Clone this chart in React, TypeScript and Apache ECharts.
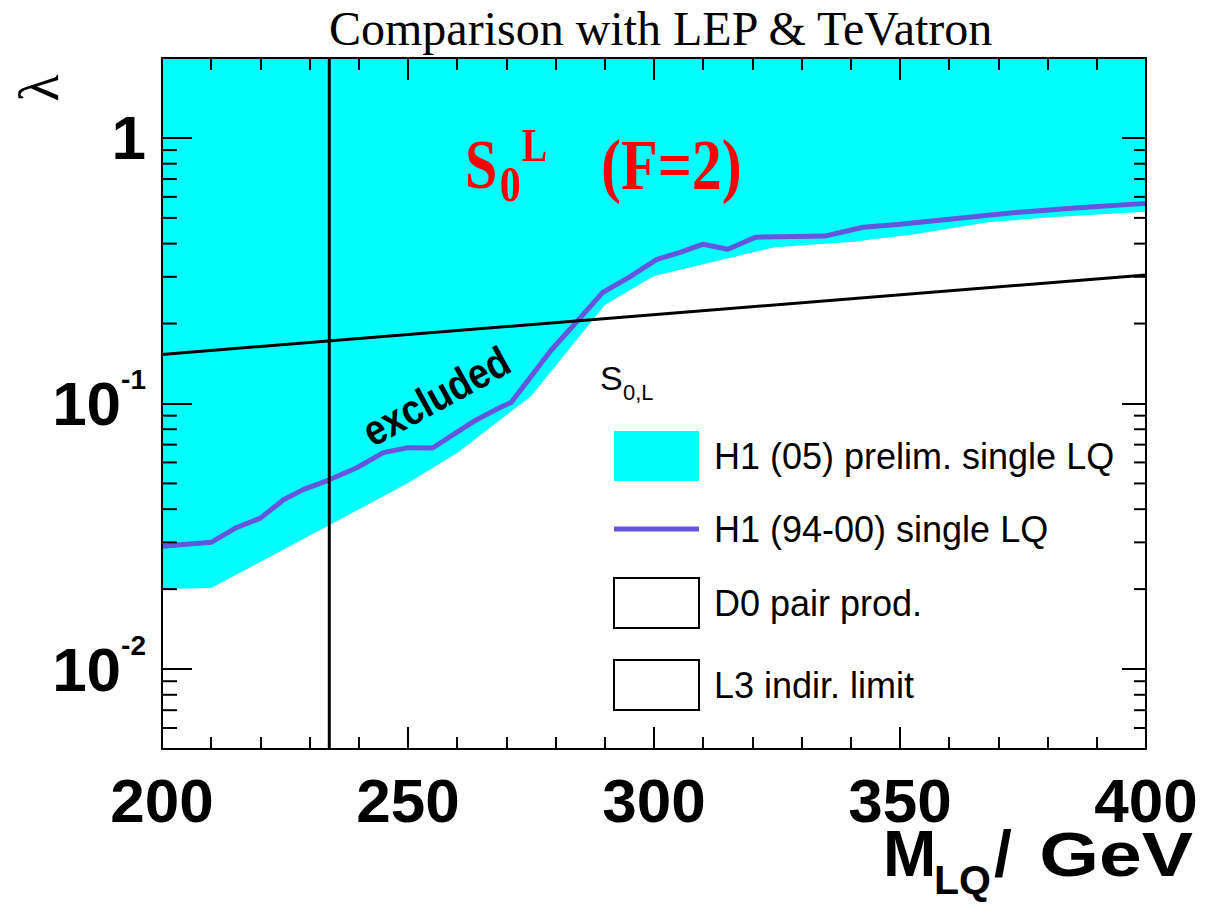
import React, { useEffect, useRef } from 'react';
import * as echarts from 'echarts';

// ---- data ----
const X_MIN = 200;
const X_MAX = 400;
const Y_MIN = 0.005;
const Y_MAX = 2;

// H1 (05) preliminary single LQ: lower edge of the excluded (cyan) region
const h1NewMass = [200, 210, 233.5, 250, 260, 275, 290, 300, 324.6, 340, 353, 368, 380, 400];
const h1NewLambda = [0.02, 0.0202, 0.0344, 0.0502, 0.0651, 0.1066, 0.235, 0.302, 0.388, 0.406, 0.434, 0.481, 0.502, 0.527];

// H1 (94-00) single LQ limit
const h1OldMass = [200, 210, 215, 220, 224.7, 228.7, 234, 239.6, 245, 250, 255, 260, 263.3, 268.7, 271, 279, 285, 289.6, 295, 300.6, 305.3, 310, 315, 320.7, 334.7, 342.5, 350, 360, 373.5, 387, 400];
const h1OldLambda = [0.029, 0.03, 0.034, 0.037, 0.0434, 0.0474, 0.0516, 0.0573, 0.0653, 0.0682, 0.068, 0.078, 0.0855, 0.0966, 0.101, 0.158, 0.21, 0.262, 0.299, 0.349, 0.371, 0.398, 0.381, 0.423, 0.427, 0.461, 0.473, 0.494, 0.524, 0.547, 0.567];

// L3 indirect limit
const l3Mass = [200, 400];
const l3Lambda = [0.153, 0.305];

// D0 pair production limit (vertical line)
const d0Mass = [234, 234];
const d0Lambda = [0.005, 2];

// minor ticks of the log axis
const yMinorTicks = [
  0.006, 0.007, 0.008, 0.009,
  0.02, 0.03, 0.04, 0.05, 0.06, 0.07, 0.08, 0.09,
  0.2, 0.3, 0.4, 0.5, 0.6, 0.7, 0.8, 0.9,
];

const seriesNames = ['H1 (05) prelim. single LQ', 'H1 (94-00) single LQ', 'D0 pair prod.', 'L3 indir. limit'];

const CYAN = '#00ffff';
const PURPLE = '#6655dd';
const SANS = "'Liberation Sans', Arial, Helvetica, sans-serif";
const SERIF = "'Liberation Serif', 'Times New Roman', serif";

const zip = (xs: number[], ys: number[]) => xs.map((x, i) => [x, ys[i]]);

export default function App() {
  const ref = useRef<HTMLDivElement>(null);

  useEffect(() => {
    if (!ref.current) return;
    const chart = echarts.init(ref.current, null, { renderer: 'svg' });

    const yLabelFormatter = (v: number) => {
      const l = Math.log10(v);
      const e = Math.round(l);
      if (Math.abs(l - e) > 1e-6) return '';
      if (e === 0) return '{b|1}';
      return `{b|10}{s|${e}}`;
    };

    const xAxisCommon = {
      type: 'value',
      min: X_MIN,
      max: X_MAX,
      interval: 50,
      z: 10,
      splitLine: { show: false },
      axisLine: { show: true, onZero: false, lineStyle: { color: '#000', width: 2 } },
      axisTick: { show: true, inside: true, length: 22, lineStyle: { color: '#000', width: 2 } },
      minorTick: { show: true, splitNumber: 5, length: 12, lineStyle: { color: '#000', width: 2 } },
    };
    const yAxisCommon = {
      type: 'log',
      logBase: 10,
      min: Y_MIN,
      max: Y_MAX,
      z: 10,
      splitLine: { show: false },
      axisLine: { show: true, onZero: false, lineStyle: { color: '#000', width: 2 } },
      axisTick: { show: true, inside: true, length: 30, lineStyle: { color: '#000', width: 2 } },
    };

    const option: any = {
      animation: false,
      backgroundColor: '#ffffff',
      title: {
        text: 'Comparison with LEP & TeVatron',
        left: 329,
        top: 4,
        padding: 0,
        textStyle: { fontFamily: SERIF, fontSize: 48, fontWeight: 'normal', color: '#000', lineHeight: 48 },
      },
      grid: { left: 162, right: 60, top: 58, bottom: 155, containLabel: false, outerBoundsMode: 'none' },
      xAxis: [
        {
          ...xAxisCommon,
          position: 'bottom',
          axisLabel: { show: true, margin: 27, color: '#000', fontFamily: SANS, fontSize: 62, fontWeight: 'bold', lineHeight: 48 },
        },
        { ...xAxisCommon, position: 'top', axisLabel: { show: false } },
      ],
      yAxis: [
        {
          ...yAxisCommon,
          position: 'left',
          axisLabel: {
            show: true,
            margin: 16,
            formatter: yLabelFormatter,
            rich: {
              b: { fontFamily: SANS, fontSize: 62, fontWeight: 'bold', color: '#000', lineHeight: 76 },
              s: { fontFamily: SANS, fontSize: 28, fontWeight: 'bold', color: '#000', lineHeight: 28, verticalAlign: 'top' },
            },
          },
        },
        { ...yAxisCommon, position: 'right', axisTick: { ...yAxisCommon.axisTick, length: 24 }, axisLabel: { show: false } },
      ],
      legend: {
        orient: 'vertical',
        left: 613,
        top: 431,
        itemWidth: 85,
        itemHeight: 50,
        itemGap: 30,
        selectedMode: false,
        padding: 0,
        textStyle: { fontFamily: SANS, fontSize: 36, color: '#000', padding: [0, 0, 0, 10] },
        data: [
          { name: seriesNames[0], icon: 'rect', itemStyle: { color: CYAN, borderWidth: 0 } },
          { name: seriesNames[1], icon: 'path://M0,0L100,0L100,6L0,6Z', itemStyle: { color: PURPLE, borderWidth: 0 } },
          { name: seriesNames[2], icon: 'rect', itemStyle: { color: '#ffffff', borderColor: '#000', borderWidth: 2 } },
          { name: seriesNames[3], icon: 'rect', itemStyle: { color: '#ffffff', borderColor: '#000', borderWidth: 2 } },
        ],
      },
      series: [
        {
          name: seriesNames[0],
          type: 'line',
          data: zip(h1NewMass, h1NewLambda),
          color: CYAN,
          symbol: 'none',
          lineStyle: { width: 0, color: CYAN },
          areaStyle: { color: CYAN, opacity: 1, origin: 'end' },
          z: 1,
          silent: true,
        },
        {
          name: seriesNames[1],
          type: 'line',
          data: zip(h1OldMass, h1OldLambda),
          color: PURPLE,
          symbol: 'none',
          lineStyle: { width: 5, color: PURPLE },
          z: 3,
          silent: true,
        },
        {
          name: seriesNames[2],
          type: 'line',
          data: zip(d0Mass, d0Lambda),
          color: '#000',
          symbol: 'none',
          lineStyle: { width: 3, color: '#000' },
          z: 4,
          silent: true,
        },
        {
          name: seriesNames[3],
          type: 'line',
          data: zip(l3Mass, l3Lambda),
          color: '#000',
          symbol: 'none',
          lineStyle: { width: 3, color: '#000' },
          z: 4,
          silent: true,
        },
        {
          name: 'minor ticks',
          type: 'custom',
          data: yMinorTicks.map((v) => [X_MIN, v]),
          z: 10,
          silent: true,
          renderItem: (_params: any, api: any) => {
            const v = api.value(1);
            const l = api.coord([X_MIN, v]);
            const r = api.coord([X_MAX, v]);
            return {
              type: 'group',
              children: [
                { type: 'line', shape: { x1: l[0], y1: l[1], x2: l[0] + 15, y2: l[1] }, style: { stroke: '#000', lineWidth: 2 } },
                { type: 'line', shape: { x1: r[0] - 12, y1: r[1], x2: r[0], y2: r[1] }, style: { stroke: '#000', lineWidth: 2 } },
              ],
            };
          },
        },
      ],
      graphic: [
        // y-axis title (rotated lambda)
        {
          type: 'text', x: 39, y: 88, rotation: Math.PI / 2, z: 20,
          style: { text: 'λ', font: `56px ${SERIF}`, fill: '#000', align: 'center', verticalAlign: 'middle' },
        },
        // x-axis title: M_LQ / GeV
        { type: 'text', x: 883, y: 854, z: 20, style: { text: 'M', font: `bold 64px ${SANS}`, lineHeight: 46, fill: '#000', align: 'left', verticalAlign: 'middle' } },
        { type: 'text', x: 934, y: 880, z: 20, style: { text: 'LQ', font: `bold 41px ${SANS}`, lineHeight: 30, fill: '#000', align: 'left', verticalAlign: 'middle' } },
        { type: 'text', x: 994, y: 854, z: 20, style: { text: '/', font: `bold 64px ${SANS}`, lineHeight: 46, fill: '#000', align: 'left', verticalAlign: 'middle' } },
        { type: 'text', x: 1193, y: 854, scaleX: 1.22, z: 20, style: { text: 'GeV', font: `bold 63px ${SANS}`, lineHeight: 46, fill: '#000', align: 'right', verticalAlign: 'middle' } },
        // red S0^L (F=2)
        { type: 'text', x: 465, y: 165, scaleY: 1.2, z: 20, style: { text: 'S', font: `bold 58px ${SERIF}`, fill: '#ff0000', align: 'left', verticalAlign: 'middle' } },
        { type: 'text', x: 500, y: 184, scaleY: 1.2, z: 20, style: { text: '0', font: `bold 42px ${SERIF}`, fill: '#ff0000', align: 'left', verticalAlign: 'middle' } },
        { type: 'text', x: 522, y: 146, scaleY: 1.2, z: 20, style: { text: 'L', font: `bold 38px ${SERIF}`, fill: '#ff0000', align: 'left', verticalAlign: 'middle' } },
        { type: 'text', x: 601, y: 165, scaleY: 1.2, z: 20, style: { text: '(F=2)', font: `bold 60px ${SERIF}`, fill: '#ff0000', align: 'left', verticalAlign: 'middle' } },
        // excluded
        {
          type: 'text', x: 436, y: 396, rotation: 0.5, scaleY: 1.15, z: 20,
          style: { text: 'excluded', font: `bold 37px ${SANS}`, fill: '#000', align: 'center', verticalAlign: 'middle' },
        },
        // legend header S_{0,L}
        { type: 'text', x: 600, y: 378, z: 20, style: { text: 'S', font: `34px ${SANS}`, fill: '#000', align: 'left', verticalAlign: 'middle' } },
        { type: 'text', x: 623, y: 392, z: 20, style: { text: '0,L', font: `22px ${SANS}`, fill: '#000', align: 'left', verticalAlign: 'middle' } },
      ],
    };

    chart.setOption(option);
    return () => chart.dispose();
  }, []);

  return <div ref={ref} style={{ position: 'fixed', left: 0, top: 0, width: 1206, height: 904, background: '#fff' }} />;
}
